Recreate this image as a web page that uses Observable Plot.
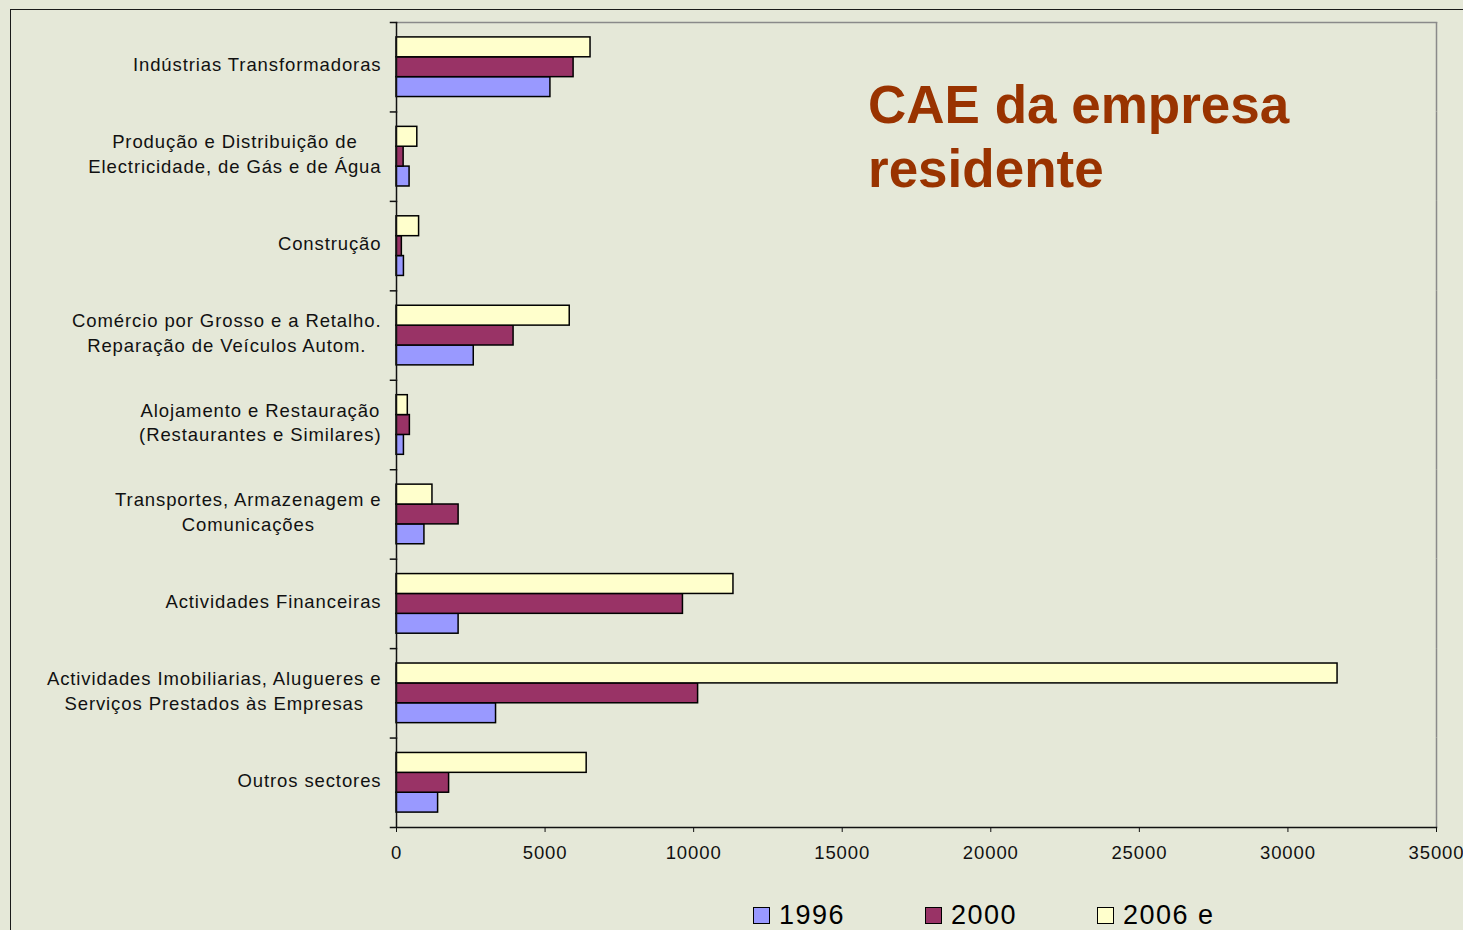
<!DOCTYPE html>
<html>
<head>
<meta charset="utf-8">
<script src="https://cdn.jsdelivr.net/npm/d3@7"></script>
<script src="https://cdn.jsdelivr.net/npm/@observablehq/plot@0.6"></script>
<style>
  html, body { margin: 0; padding: 0; background: #e5e8d8; overflow: hidden; width: 1463px; height: 930px; }
  #outer { position: absolute; left: 10px; top: 8.5px; width: 3000px; height: 3000px; border-left: 1.5px solid #1a1a1a; border-top: 1.5px solid #1a1a1a; }
  #chart { position: absolute; left: 0; top: 0; }
  #title { position: absolute; left: 868px; top: 73px; font-family: "Liberation Sans", Arial, sans-serif; font-weight: bold; font-size: 53px; line-height: 64px; color: #993300; white-space: pre; }
  #legend { position: absolute; left: 753px; top: 900px; display: flex; font-family: "Liberation Sans", Arial, sans-serif; font-size: 27px; letter-spacing: 1.5px; line-height: 30px; color: #000; }
  #legend .item { width: 172px; display: flex; align-items: center; }
  #legend .sw { width: 15px; height: 15px; border: 1.5px solid #000; margin-right: 9px; box-sizing: content-box; }
</style>
</head>
<body>
<div id="outer"></div>
<div id="chart"></div>
<div id="title"></div>
<div id="legend"></div>
<script>
// ---- data ----
const categories = [
  "Indústrias Transformadoras",
  "Produção e Distribuição de\nElectricidade, de Gás e de Água",
  "Construção",
  "Comércio por Grosso e a Retalho.\nReparação de Veículos Autom.",
  "Alojamento e Restauração\n(Restaurantes e Similares)",
  "Transportes, Armazenagem e\nComunicações",
  "Actividades Financeiras",
  "Actividades Imobiliarias, Alugueres e\nServiços Prestados às Empresas",
  "Outros sectores"
];
const series = ["1996", "2000", "2006 e"];
const values1996 = [5180, 440, 250, 2600, 250, 940, 2090, 3350, 1400];
const values2000 = [5960, 240, 180, 3940, 450, 2090, 9640, 10150, 1770];
const values2006 = [6530, 700, 760, 5830, 380, 1210, 11340, 31670, 6400];
const seriesColors = ["#9999ff", "#993366", "#ffffcc"];
const xTicks = [0, 5000, 10000, 15000, 20000, 25000, 30000, 35000];
const xDomain = [0, 35000];
const titleText = "CAE da empresa\nresidente";

// ---- table ----
const seriesValues = [values1996, values2000, values2006];
const rows = [];
categories.forEach((c, i) => {
  series.forEach((s, j) => rows.push({category: c, series: s, value: seriesValues[j][i]}));
});

const W = 1463, H = 880, mL = 396, mR = 27, mT = 22, mB = 53;
const plotW = W - mL - mR;

const chart = Plot.plot({
  width: W,
  height: H,
  marginLeft: mL,
  marginRight: mR,
  marginTop: mT,
  marginBottom: mB,
  style: {fontFamily: "'Liberation Sans', Arial, sans-serif", fontSize: "18.5px", letterSpacing: "0.9px", color: "#111", background: "transparent"},
  x: {domain: xDomain, label: null},
  y: {domain: series.slice().reverse(), paddingInner: 0, paddingOuter: 0.75, round: false, axis: null, label: null},
  fy: {domain: categories, padding: 0, round: false, label: null, axis: null},
  color: {domain: series, range: seriesColors},
  marks: [
    Plot.barX(rows, {x: "value", y: "series", fy: "category", fill: "series", stroke: "#000", strokeWidth: 1.5}),
    Plot.ruleX([xDomain[1]], {stroke: "#8a8a8a", strokeWidth: 1.5}),
    Plot.frame({anchor: "top", stroke: "#8a8a8a", strokeWidth: 1.5, fy: [categories[0]]}),
    Plot.frame({anchor: "top", stroke: "#111", strokeWidth: 1.5, insetLeft: -6, insetRight: plotW}),
    Plot.frame({anchor: "bottom", stroke: "#111", strokeWidth: 1.5, insetLeft: -6, fy: [categories[categories.length - 1]]}),
    Plot.ruleX([0], {stroke: "#111", strokeWidth: 1.5}),
    Plot.axisX({ticks: xTicks, tickSize: 5, tickPadding: 13, fontSize: 18.5, stroke: "#111", tickFormat: d => String(d), label: null}),
    Plot.axisFy({anchor: "left", tickSize: 0, tickPadding: 15, fontSize: 18.5, lineHeight: 1.35, dy: -4, label: null})
  ]
});
document.getElementById("chart").appendChild(chart);

// center multi-line category labels within their block (right edge kept)
chart.querySelectorAll('g[aria-label="fy-axis tick label"] text').forEach(t => {
  const tspans = t.querySelectorAll("tspan");
  if (tspans.length > 1) {
    const w = t.getBBox().width;
    t.setAttribute("text-anchor", "middle");
    tspans.forEach(ts => ts.setAttribute("x", -w / 2));
  }
});

document.getElementById("title").textContent = titleText;

const legend = document.getElementById("legend");
series.forEach((s, i) => {
  const item = document.createElement("div");
  item.className = "item";
  const sw = document.createElement("span");
  sw.className = "sw";
  sw.style.background = seriesColors[i];
  const lab = document.createElement("span");
  lab.textContent = s;
  item.appendChild(sw);
  item.appendChild(lab);
  legend.appendChild(item);
});
</script>
</body>
</html>
